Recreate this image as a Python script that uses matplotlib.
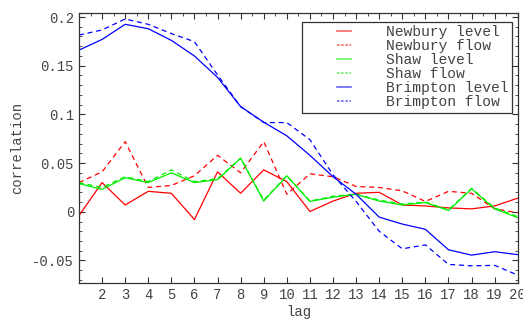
import numpy as np
import matplotlib
matplotlib.use("Agg")
import matplotlib.pyplot as plt
from matplotlib.ticker import MultipleLocator
from matplotlib.legend_handler import HandlerLine2D
from matplotlib.lines import Line2D

lags = np.arange(1, 21)

newbury_level = [-0.004, 0.030, 0.007, 0.021, 0.019, -0.008, 0.041, 0.019, 0.043, 0.031,
                 0.0003, 0.011, 0.019, 0.020, 0.007, 0.006, 0.004, 0.003, 0.006, 0.014]
newbury_flow = [0.030, 0.041, 0.072, 0.025, 0.027, 0.037, 0.058, 0.040, 0.072, 0.018,
                0.039, 0.036, 0.026, 0.025, 0.0215, 0.0106, 0.021, 0.019, 0.003, -0.001]
shaw_level = [0.029, 0.023, 0.035, 0.030, 0.040, 0.030, 0.033, 0.055, 0.011, 0.037,
              0.0106, 0.015, 0.018, 0.011, 0.007, 0.0095, 0.0013, 0.0236, 0.003, -0.006]
shaw_flow = [0.030, 0.025, 0.036, 0.031, 0.043, 0.031, 0.034, 0.055, 0.012, 0.037,
             0.011, 0.016, 0.018, 0.012, 0.008, 0.010, 0.002, 0.024, 0.004, -0.005]
brimpton_level = [0.166, 0.177, 0.1925, 0.188, 0.176, 0.160, 0.138, 0.108, 0.092, 0.078,
                  0.058, 0.036, 0.018, -0.0055, -0.0126, -0.018, -0.039, -0.0445, -0.041, -0.044]
brimpton_flow = [0.1815, 0.1867, 0.198, 0.1925, 0.183, 0.1747, 0.1405, 0.108, 0.0916, 0.0916,
                 0.074, 0.038, 0.0106, -0.020, -0.038, -0.034, -0.054, -0.0555, -0.055, -0.065]

series = [
    ("Newbury level", newbury_level, "#ff0000", "-"),
    ("Newbury flow", newbury_flow, "#ff0000", "--"),
    ("Shaw level", shaw_level, "#00ee00", "-"),
    ("Shaw flow", shaw_flow, "#00ee00", "--"),
    ("Brimpton level", brimpton_level, "#0000ff", "-"),
    ("Brimpton flow", brimpton_flow, "#0000ff", "--"),
]

plt.rcParams['font.family'] = ['Liberation Mono', 'DejaVu Sans Mono']
txt = "#444444"

fig = plt.figure(figsize=(5.23, 3.20), dpi=100)
ax = fig.add_axes([0.151, 0.116, 0.839, 0.843])

for name, vals, col, ls in series:
    ax.plot(lags, vals, color=col, linestyle=ls, linewidth=0.9,
            dashes=(4, 3) if ls == "--" else (None, None), label=name)

ax.set_xlim(1, 20)
ax.set_ylim(-0.073, 0.204)
ax.set_xticks(range(2, 21))
ax.xaxis.set_minor_locator(MultipleLocator(0.5))
ax.set_yticks([-0.05, 0, 0.05, 0.1, 0.15, 0.2])
ax.set_yticklabels(["-0.05", "0", "0.05", "0.1", "0.15", "0.2"])
ax.yaxis.set_minor_locator(MultipleLocator(0.01))

ax.tick_params(which='both', direction='in', colors="#333333", labelcolor=txt,
               labelsize=10, top=True, right=True)
ax.tick_params(which='major', length=4, width=0.8)
ax.tick_params(which='minor', length=2.5, width=0.6, bottom=False)
for s in ax.spines.values():
    s.set_color("#333333")
    s.set_linewidth(0.9)

ax.set_xlabel("lag", color=txt, fontsize=10, labelpad=2)
ax.set_ylabel("correlation", color=txt, fontsize=10, labelpad=6)

# legend handles: short, pale strokes placed well inside the box
handles, labels = ax.get_legend_handles_labels()
leg_handles = []
for h in handles:
    lh = Line2D([], [], color=h.get_color(), linestyle=h.get_linestyle(),
                linewidth=1.2, alpha=0.6)
    if h.get_linestyle() == "--":
        lh.set_dashes((1.5, 1))
    leg_handles.append(lh)

leg = ax.legend(leg_handles, labels, loc='upper right', bbox_to_anchor=(0.987, 0.968),
                fontsize=10.5, frameon=True, fancybox=False, handlelength=3.1,
                handletextpad=2.4, borderpad=0.25, labelspacing=0.0, borderaxespad=0,
                handler_map={Line2D: HandlerLine2D(xpad=2.15)})
leg.get_frame().set_edgecolor("black")
leg.get_frame().set_linewidth(0.9)
for t in leg.get_texts():
    t.set_color(txt)

fig.savefig("out.png", dpi=100)
